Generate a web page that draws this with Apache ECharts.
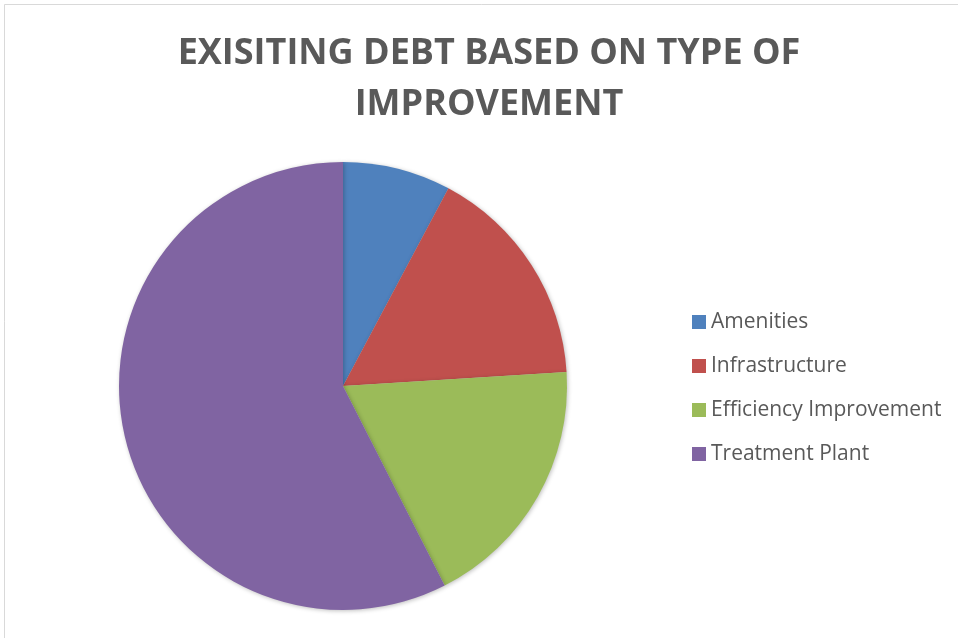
<!DOCTYPE html>
<html>
<head>
<meta charset="utf-8">
<script src="https://cdn.jsdelivr.net/npm/echarts@6/dist/echarts.min.js"></script>
<style>html,body{margin:0;padding:0;background:#fff;}#c{width:958px;height:638px;}</style>
</head>
<body>
<div id="c"></div>
<script>
const categories = ['Amenities', 'Infrastructure', 'Efficiency Improvement', 'Treatment Plant'];
const values = [7.8, 16.2, 18.5, 57.5];
const colors = ['#4F81BD', '#C0504D', '#9BBB59', '#8064A2'];

const chart = echarts.init(document.getElementById('c'), null, {renderer: 'canvas'});
chart.setOption({
  animation: false,
  backgroundColor: '#fff',
  graphic: [{
    type: 'rect',
    shape: {x: 4.5, y: 4.5, width: 1000, height: 1000},
    style: {fill: 'none', stroke: '#d9d9d9', lineWidth: 1},
    silent: true
  }],
  title: {
    text: 'EXISITING DEBT BASED ON TYPE OF\nIMPROVEMENT',
    left: 489,
    textAlign: 'center',
    top: 28,
    padding: 0,
    textStyle: {
      fontFamily: '"Open Sans", sans-serif',
      fontWeight: 'bold',
      fontSize: 36,
      lineHeight: 51,
      color: '#595959'
    }
  },
  legend: {
    orient: 'vertical',
    left: 692,
    top: 311,
    padding: 0,
    itemWidth: 14,
    itemHeight: 14,
    itemGap: 22,
    icon: 'rect',
    textStyle: {
      fontFamily: '"Open Sans", sans-serif',
      fontSize: 21,
      color: '#595959',
      lineHeight: 22
    },
    data: categories
  },
  series: [{
    type: 'pie',
    center: [343, 386],
    radius: 224,
    startAngle: 90,
    clockwise: true,
    label: {show: false},
    labelLine: {show: false},
    itemStyle: {
      shadowBlur: 4,
      shadowColor: 'rgba(0,0,0,0.25)',
      shadowOffsetX: 1,
      shadowOffsetY: 1
    },
    emphasis: {disabled: true},
    data: categories.map((n, i) => ({name: n, value: values[i], itemStyle: {color: colors[i]}}))
  }]
});
</script>
</body>
</html>
